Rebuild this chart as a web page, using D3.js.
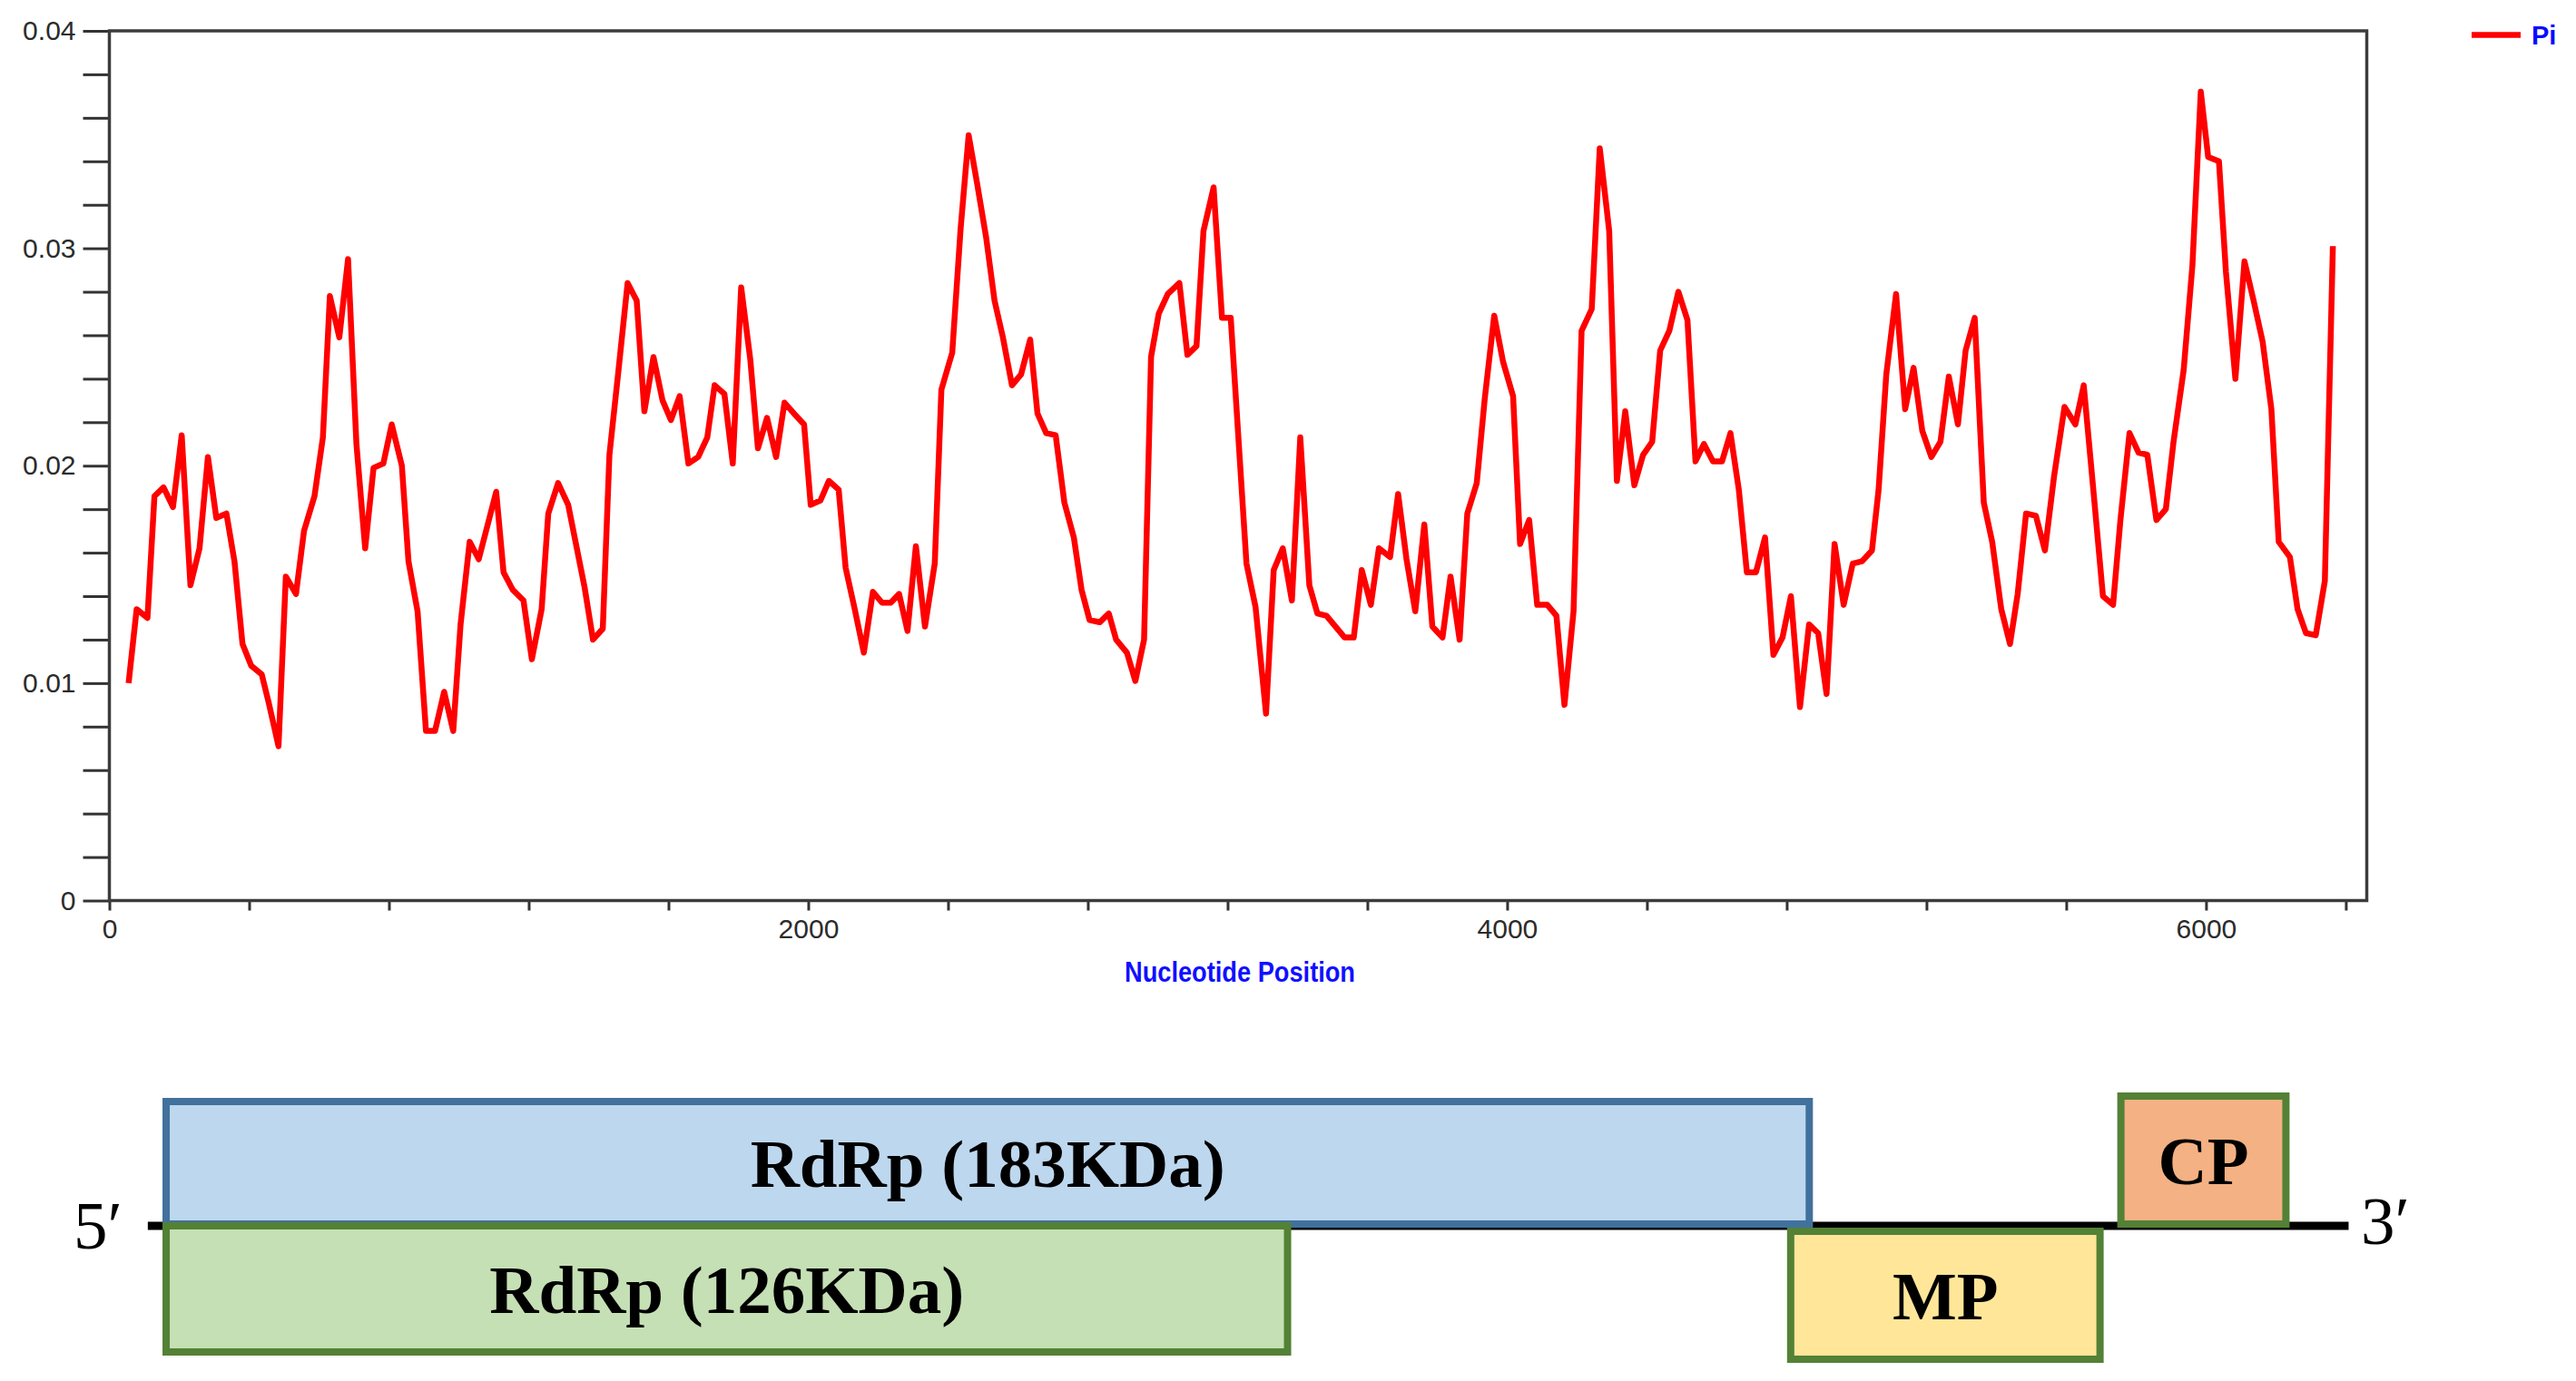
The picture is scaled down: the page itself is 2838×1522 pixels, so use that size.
<!DOCTYPE html>
<html>
<head>
<meta charset="utf-8">
<script src="https://cdn.jsdelivr.net/npm/d3@7"></script>
<style>
  html, body { margin: 0; padding: 0; background: #fff; }
  svg { display: block; }
</style>
</head>
<body>
<svg id="chart" width="2838" height="1522"></svg>
<script>
// ---------- data ----------
const positions = [
  55, 78, 109, 129, 155, 182, 207, 232, 258, 282, 306, 335, 358, 381, 406, 436, 456, 484, 505, 534,
  557, 587, 611, 631, 658, 683, 707, 732, 756, 784, 808, 837, 856, 882, 906, 932, 958, 984, 1005, 1031,
  1057, 1107, 1128, 1154, 1185, 1209, 1237, 1256, 1284, 1313, 1334, 1360, 1384, 1412, 1431, 1457, 1483, 1509, 1531, 1557,
  1583, 1607, 1632, 1657, 1685, 1711, 1732, 1760, 1784, 1808, 1834, 1856, 1882, 1908, 1932, 1959, 1988, 2007, 2035, 2059,
  2087, 2107, 2133, 2159, 2185, 2211, 2236, 2260, 2284, 2308, 2334, 2362, 2381, 2412, 2436, 2459, 2483, 2509, 2533, 2557,
  2583, 2609, 2635, 2656, 2681, 2708, 2733, 2760, 2782, 2805, 2834, 2860, 2881, 2912, 2936, 2961, 2981, 3003, 3029, 3062,
  3085, 3111, 3131, 3160, 3184, 3209, 3254, 3280, 3310, 3332, 3358, 3384, 3408, 3434, 3457, 3483, 3509, 3535, 3561, 3584,
  3610, 3633, 3665, 3688, 3712, 3737, 3763, 3786, 3815, 3838, 3864, 3886, 3913, 3936, 3963, 3988, 4017, 4037, 4063, 4086,
  4115, 4141, 4164, 4190, 4213, 4242, 4265, 4292, 4314, 4338, 4364, 4389, 4415, 4438, 4464, 4490, 4516, 4539, 4563, 4589,
  4615, 4639, 4663, 4686, 4712, 4738, 4762, 4788, 4812, 4838, 4864, 4890, 4914, 4937, 4963, 4989, 5015, 5044, 5063, 5085,
  5113, 5139, 5163, 5188, 5214, 5240, 5264, 5290, 5312, 5338, 5364, 5388, 5414, 5439, 5461, 5485, 5513, 5539, 5565, 5595,
  5626, 5650, 5678, 5705, 5734, 5755, 5781, 5807, 5832, 5858, 5885, 5907, 5936, 5961, 5985, 6006, 6037, 6057, 6084, 6110,
  6136, 6162, 6187, 6208, 6240, 6262, 6286, 6314, 6340, 6363
];

const piValues = [
  0.0100, 0.0134, 0.0130, 0.0186, 0.0190, 0.0181, 0.0214, 0.0145, 0.0162, 0.0204, 0.0176, 0.0178, 0.0156, 0.0118, 0.0108, 0.0104, 0.0091, 0.0071, 0.0149, 0.0141,
  0.0170, 0.0186, 0.0213, 0.0278, 0.0259, 0.0295, 0.0210, 0.0162, 0.0199, 0.0201, 0.0219, 0.0200, 0.0156, 0.0133, 0.0078, 0.0078, 0.0096, 0.0078, 0.0127, 0.0165,
  0.0157, 0.0188, 0.0151, 0.0143, 0.0138, 0.0111, 0.0134, 0.0178, 0.0192, 0.0182, 0.0165, 0.0144, 0.0120, 0.0125, 0.0205, 0.0244, 0.0284, 0.0276, 0.0225, 0.0250,
  0.0230, 0.0221, 0.0232, 0.0201, 0.0204, 0.0213, 0.0237, 0.0233, 0.0201, 0.0282, 0.0249, 0.0208, 0.0222, 0.0204, 0.0229, 0.0224, 0.0219, 0.0182, 0.0184, 0.0193,
  0.0189, 0.0153, 0.0134, 0.0114, 0.0142, 0.0137, 0.0137, 0.0141, 0.0124, 0.0163, 0.0126, 0.0155, 0.0235, 0.0252, 0.0309, 0.0352, 0.0330, 0.0305, 0.0276, 0.0259,
  0.0237, 0.0242, 0.0258, 0.0224, 0.0215, 0.0214, 0.0183, 0.0167, 0.0143, 0.0129, 0.0128, 0.0132, 0.0120, 0.0114, 0.0101, 0.0120, 0.0250, 0.0270, 0.0279, 0.0284,
  0.0251, 0.0255, 0.0308, 0.0328, 0.0268, 0.0268, 0.0155, 0.0135, 0.0086, 0.0152, 0.0162, 0.0138, 0.0213, 0.0145, 0.0132, 0.0131, 0.0126, 0.0121, 0.0121, 0.0152,
  0.0136, 0.0162, 0.0158, 0.0187, 0.0157, 0.0133, 0.0173, 0.0126, 0.0121, 0.0149, 0.0120, 0.0178, 0.0192, 0.0231, 0.0269, 0.0248, 0.0232, 0.0164, 0.0175, 0.0136,
  0.0136, 0.0131, 0.0090, 0.0133, 0.0262, 0.0272, 0.0346, 0.0308, 0.0193, 0.0225, 0.0191, 0.0205, 0.0211, 0.0253, 0.0262, 0.0280, 0.0267, 0.0202, 0.0210, 0.0202,
  0.0202, 0.0215, 0.0189, 0.0151, 0.0151, 0.0167, 0.0113, 0.0121, 0.0140, 0.0089, 0.0127, 0.0123, 0.0095, 0.0164, 0.0136, 0.0155, 0.0156, 0.0161, 0.0189, 0.0242,
  0.0279, 0.0226, 0.0245, 0.0216, 0.0204, 0.0211, 0.0241, 0.0219, 0.0253, 0.0268, 0.0183, 0.0165, 0.0134, 0.0118, 0.0141, 0.0178, 0.0177, 0.0161, 0.0195, 0.0227,
  0.0219, 0.0237, 0.0188, 0.0140, 0.0136, 0.0175, 0.0215, 0.0206, 0.0205, 0.0175, 0.0180, 0.0211, 0.0244, 0.0292, 0.0372, 0.0342, 0.0340, 0.0289, 0.0240, 0.0294,
  0.0276, 0.0257, 0.0226, 0.0165, 0.0158, 0.0134, 0.0123, 0.0122, 0.0147, 0.0301
];

const xTickValues = d3.range(0, 6401, 400);
const xTickLabels = [0, 2000, 4000, 6000];
const yTickValues = d3.range(0, 21).map(i => i * 0.002);
const yTickLabels = [0, 0.01, 0.02, 0.03, 0.04];

// genome map: gene names and their extent (nt, read against the plot axis)
const genes = ["RdRp (183KDa)", "RdRp (126KDa)", "MP", "CP"];
const geneStart = [152, 152, 4801, 5746];
const geneEnd = [4875, 3382, 5707, 6239];
const genomeExtent = [110, 6408];

// ---------- layout / styles ----------
const svg = d3.select("#chart");
const plot = { left: 120.5, right: 2607.5, top: 34, bottom: 992.5 };

const boxStyle = {
  "RdRp (183KDa)": { y0: 1210, y1: 1353, fill: "#BDD7EE", stroke: "#41719C" },
  "RdRp (126KDa)": { y0: 1347, y1: 1494, fill: "#C5E0B4", stroke: "#538135" },
  "MP":            { y0: 1353, y1: 1502, fill: "#FFE699", stroke: "#538135" },
  "CP":            { y0: 1204, y1: 1353, fill: "#F4B183", stroke: "#538135" }
};

svg.append("rect").attr("width", 2838).attr("height", 1522).attr("fill", "#fff");

// ---------- scales ----------
const x = d3.scaleLinear().domain([0, 6460]).range([plot.left, plot.right]);
const y = d3.scaleLinear().domain([0, 0.04]).range([plot.bottom, plot.top]);

// ---------- axes ----------
const axisFont = "'Liberation Sans', Arial, sans-serif";

const yAxis = svg.append("g")
  .attr("transform", `translate(${plot.left},0)`)
  .call(d3.axisLeft(y)
    .tickValues(yTickValues)
    .tickSize(29)
    .tickPadding(8)
    .tickFormat(v => {
      const hit = yTickLabels.find(t => Math.abs(t - v) < 1e-9);
      if (hit === undefined) return "";
      return hit === 0 ? "0" : d3.format(".2f")(hit);
    }));

const xAxis = svg.append("g")
  .attr("transform", `translate(0,${plot.bottom})`)
  .call(d3.axisBottom(x)
    .tickValues(xTickValues)
    .tickSize(11)
    .tickPadding(9)
    .tickFormat(v => xTickLabels.includes(v) ? String(v) : ""));

[yAxis, xAxis].forEach(a => {
  a.select(".domain").remove();
  a.selectAll(".tick line").attr("stroke", "#333").attr("stroke-width", 3);
  a.selectAll(".tick text")
    .attr("fill", "#2b2b2b")
    .attr("font-family", axisFont)
    .attr("font-size", 30);
});

// plot frame
svg.append("rect")
  .attr("x", plot.left)
  .attr("y", plot.top)
  .attr("width", plot.right - plot.left)
  .attr("height", plot.bottom - plot.top)
  .attr("fill", "none")
  .attr("stroke", "#3c3c3c")
  .attr("stroke-width", 3.5);

// ---------- Pi line ----------
const series = positions.map((p, i) => ({ pos: p, pi: piValues[i] }));

svg.append("path")
  .datum(series)
  .attr("fill", "none")
  .attr("stroke", "#ff0000")
  .attr("stroke-width", 6.5)
  .attr("stroke-linejoin", "round")
  .attr("d", d3.line().x(d => x(d.pos)).y(d => y(d.pi)));

// axis title
svg.append("text")
  .attr("x", 1366)
  .attr("y", 1082)
  .attr("text-anchor", "middle")
  .attr("font-family", axisFont)
  .attr("font-weight", "bold")
  .attr("font-size", 31)
  .attr("fill", "#1010ff")
  .attr("textLength", 254)
  .attr("lengthAdjust", "spacingAndGlyphs")
  .text("Nucleotide Position");

// legend
svg.append("line")
  .attr("x1", 2723).attr("x2", 2777)
  .attr("y1", 38.5).attr("y2", 38.5)
  .attr("stroke", "#ff0000")
  .attr("stroke-width", 6.5);

svg.append("text")
  .attr("x", 2789)
  .attr("y", 49)
  .attr("font-family", axisFont)
  .attr("font-weight", "bold")
  .attr("font-size", 29)
  .attr("fill", "#0a0aff")
  .text("Pi");

// ---------- genome map ----------
const serif = "'Liberation Serif', 'Times New Roman', serif";
const sw = 8;

svg.append("line")
  .attr("x1", x(genomeExtent[0])).attr("x2", x(genomeExtent[1]))
  .attr("y1", 1351).attr("y2", 1351)
  .attr("stroke", "#000")
  .attr("stroke-width", 9);

const geneData = genes.map((g, i) => ({ name: g, start: geneStart[i], end: geneEnd[i] }));

svg.selectAll("rect.gene")
  .data(geneData)
  .enter()
  .append("rect")
  .attr("class", "gene")
  .attr("x", d => x(d.start) + sw / 2)
  .attr("y", d => boxStyle[d.name].y0 + sw / 2)
  .attr("width", d => x(d.end) - x(d.start) - sw)
  .attr("height", d => boxStyle[d.name].y1 - boxStyle[d.name].y0 - sw)
  .attr("fill", d => boxStyle[d.name].fill)
  .attr("stroke", d => boxStyle[d.name].stroke)
  .attr("stroke-width", sw);

svg.selectAll("text.gene")
  .data(geneData)
  .enter()
  .append("text")
  .attr("class", "gene")
  .attr("x", d => (x(d.start) + x(d.end)) / 2)
  .attr("y", d => (boxStyle[d.name].y0 + boxStyle[d.name].y1) / 2 + 26)
  .attr("text-anchor", "middle")
  .attr("font-family", serif)
  .attr("font-weight", "bold")
  .attr("font-size", 75)
  .attr("fill", "#000")
  .text(d => d.name);

// 5' / 3' ends
svg.append("text")
  .attr("x", 81).attr("y", 1376)
  .attr("font-family", serif)
  .attr("font-size", 75)
  .text("5\u2032");

svg.append("text")
  .attr("x", 2601).attr("y", 1371)
  .attr("font-family", serif)
  .attr("font-size", 75)
  .text("3\u2032");
</script>
</body>
</html>
